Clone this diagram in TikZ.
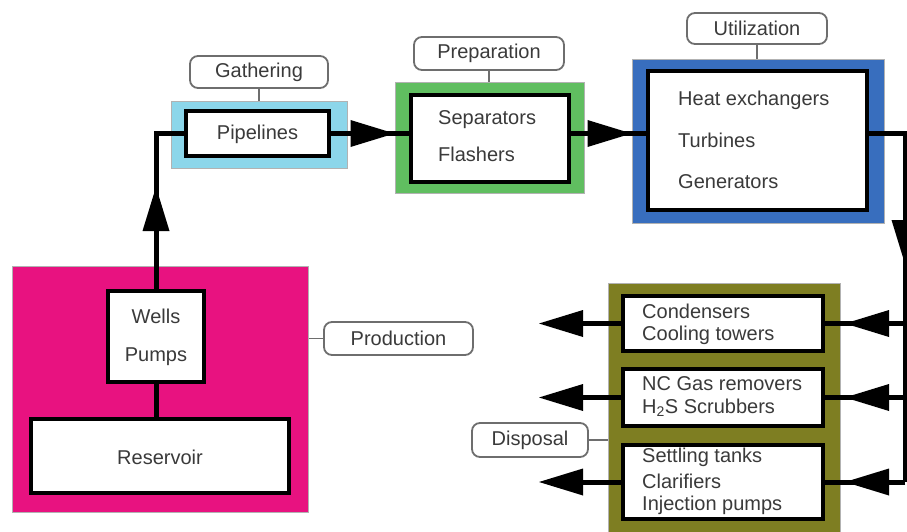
\documentclass[tikz,border=0pt]{standalone}
\usepackage{fontspec}
\setmainfont{Liberation Sans}
\usetikzlibrary{arrows.meta}
\definecolor{cyanf}{RGB}{140,214,234}
\definecolor{greenf}{RGB}{96,190,96}
\definecolor{bluef}{RGB}{56,110,190}
\definecolor{pinkf}{RGB}{232,18,128}
\definecolor{olivef}{RGB}{126,126,34}
\definecolor{txtgray}{RGB}{58,58,58}
\definecolor{labgray}{RGB}{110,110,110}
\begin{document}
\begin{tikzpicture}[x=1pt,y=-1pt,
  txt/.style={text=txtgray,font=\fontsize{20}{24}\selectfont,inner sep=0pt},
  outer/.style={draw=gray!60,line width=1pt,inner sep=0pt},
  innerbox/.style={draw=black,line width=4pt,fill=white,inner sep=0pt},
  lab/.style={draw=labgray,line width=1.8pt,rounded corners=8pt,fill=white,inner sep=0pt,txt},
  flow/.style={line width=5pt,draw=black},
  head/.style={line width=5pt,draw=black,-{Triangle[length=44pt,width=27pt,line width=0pt]}},
  tie/.style={draw=labgray,line width=1.8pt}]
\useasboundingbox (0,0) rectangle (907,532);
\clip (0,0) rectangle (907,532);

% Production
\node[outer,fill=pinkf,minimum width=296pt,minimum height=246pt] (prod) at (160,389) {};
\node[innerbox,minimum width=96pt,minimum height=91pt] (wells) at (156,336.5) {};
\node[txt] (twells) at (156,316) {Wells};
\node[txt] (tpumps) at (156,357) {Pumps};
\node[innerbox,minimum width=258pt,minimum height=74pt] (res) at (160,456) {};
\node[txt] (tres) at (160,457) {Reservoir};
\node[lab,minimum width=149pt,minimum height=33pt] (lprod) at (398.5,338.5) {Production};

% Gathering
\node[outer,fill=cyanf,minimum width=176pt,minimum height=66pt] (gath) at (259,135) {};
\node[innerbox,minimum width=143pt,minimum height=44pt] (pipe) at (257.5,133.5) {};
\node[txt] (tpipe) at (257.5,134) {Pipelines};
\node[lab,minimum width=138pt,minimum height=32pt] (lgath) at (259,72) {Gathering};

% Preparation
\node[outer,fill=greenf,minimum width=189pt,minimum height=110pt] (prep) at (489.5,138) {};
\node[innerbox,minimum width=158pt,minimum height=87pt] (prepin) at (489.5,138.5) {};
\node[txt,anchor=west] (tsep) at (438,120) {Separators};
\node[txt,anchor=west] (tfla) at (438,154) {Flashers};
\node[lab,minimum width=150pt,minimum height=33pt] (lprep) at (489,53.5) {Preparation};

% Utilization
\node[outer,fill=bluef,minimum width=252pt,minimum height=163pt] (util) at (758,141.5) {};
\node[innerbox,minimum width=219pt,minimum height=139pt] (utilin) at (757.5,140.5) {};
\node[txt,anchor=west] (theat) at (678,100) {Heat exchangers};
\node[txt,anchor=west] (tturb) at (678,140) {Turbines};
\node[txt,anchor=west] (tgen) at (678,182) {Generators};
\node[lab,minimum width=140pt,minimum height=31pt] (lutil) at (757,28.5) {Utilization};

% Disposal
\node[outer,fill=olivef,minimum width=232pt,minimum height=262pt] (disp) at (724,414) {};
\node[innerbox,minimum width=200pt,minimum height=55pt] (d1) at (723,323.5) {};
\node[txt,anchor=west] (tcond) at (642,311) {Condensers};
\node[txt,anchor=west] (tcool) at (642,335) {Cooling towers};
\node[innerbox,minimum width=200pt,minimum height=57pt] (d2) at (723,397.5) {};
\node[txt,anchor=west] (tnc) at (642,384) {NC Gas removers};
\node[txt,anchor=west] (th2s) at (642,408) {H\textsubscript{2}S Scrubbers};
\node[innerbox,minimum width=200pt,minimum height=74pt] (d3) at (723,482) {};
\node[txt,anchor=west] (tset) at (642,457) {Settling tanks};
\node[txt,anchor=west] (tcla) at (642,481) {Clarifiers};
\node[txt,anchor=west] (tinj) at (642,505) {Injection pumps};
\node[lab,minimum width=116pt,minimum height=34pt] (ldisp) at (530,440) {Disposal};

% label ties
\draw[tie] (lgath.south) -- (lgath.south |- gath.north);
\draw[tie] (lprep.south) -- (lprep.south |- prep.north);
\draw[tie] (lutil.south) -- (lutil.south |- util.north);
\draw[tie] (prod.east |- lprod.west) -- (lprod.west);
\draw[tie] (ldisp.east) -- (ldisp.east -| disp.west);

% coordinates
\coordinate (uptip) at (156,187);
\coordinate (rtop) at (905,133.5);
\coordinate (rbot) at (905,482);
\coordinate (dtip) at (905,264);
\coordinate (rtipx) at (845,0);
\coordinate (ltipx) at (539,0);

% flows
\draw[flow] (wells.north) |- (pipe.west);
\draw[head] (wells.north) -- (uptip);
\draw[flow] (pipe.east) -- (pipe.east -| prepin.west);
\draw[head] (pipe.east) -- (pipe.east -| prep.west);
\draw[flow] (prepin.east |- pipe.east) -- (utilin.west |- pipe.east);
\draw[head] (prepin.east |- pipe.east) -- (util.west |- pipe.east);
\draw[flow] (wells.south) -- (wells.south |- res.north);
\draw[flow] (utilin.east |- rtop) -- (rtop) -- (rbot);
\draw[head] (rtop) -- (dtip);

\draw[flow] (rtop |- d1) -- (d1.east);
\draw[head] (rtop |- d1) -- (rtipx |- d1);
\draw[head] (d1.west) -- (ltipx |- d1);
\draw[flow] (rtop |- d2) -- (d2.east);
\draw[head] (rtop |- d2) -- (rtipx |- d2);
\draw[head] (d2.west) -- (ltipx |- d2);
\draw[flow] (rtop |- d3) -- (d3.east);
\draw[head] (rtop |- d3) -- (rtipx |- d3);
\draw[head] (d3.west) -- (ltipx |- d3);
\end{tikzpicture}
\end{document}
